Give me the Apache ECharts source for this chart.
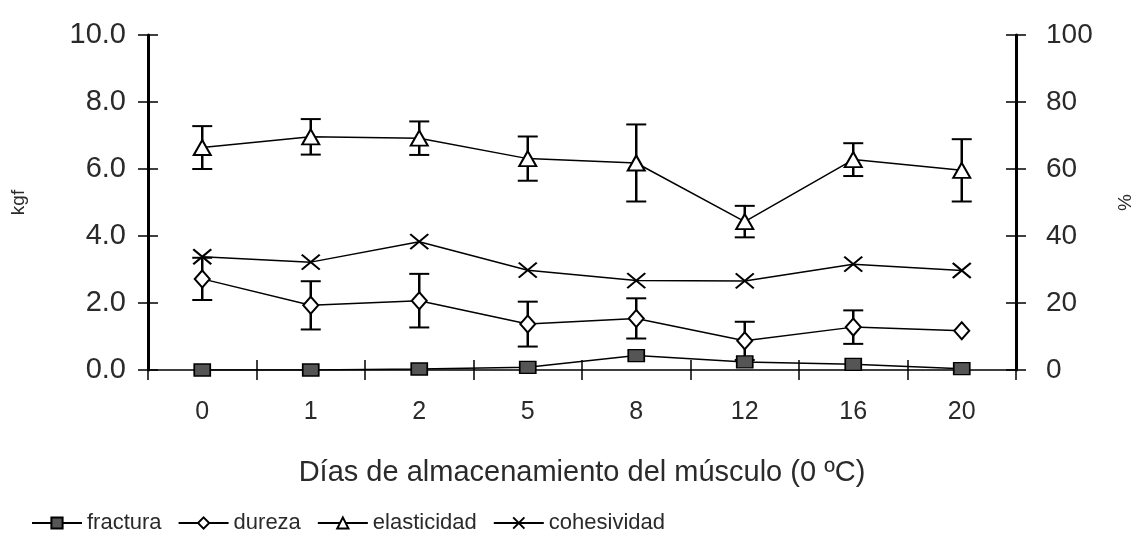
<!DOCTYPE html>
<html>
<head>
<meta charset="utf-8">
<script src="https://cdn.jsdelivr.net/npm/echarts@6/dist/echarts.min.js"></script>
<style>html,body{margin:0;padding:0;background:#fff}#c{width:1143px;height:539px}</style>
</head>
<body>
<div id="c"></div>
<script>
var categories = ['0', '1', '2', '5', '8', '12', '16', '20'];
var fractura = [0.0, 0.0, 0.03, 0.08, 0.43, 0.24, 0.17, 0.04];
var dureza = [2.72, 1.93, 2.07, 1.37, 1.54, 0.87, 1.28, 1.17];
var durezaSD = [0.63, 0.72, 0.8, 0.67, 0.6, 0.57, 0.5, null];
var elasticidad = [66.4, 69.6, 69.2, 63.1, 61.8, 44.3, 62.8, 59.6];
var elasticidadSD = [6.4, 5.3, 5.0, 6.6, 11.5, 4.7, 4.9, 9.3];
var cohesividad = [33.8, 32.2, 38.3, 29.8, 26.7, 26.6, 31.6, 29.7];
var leftTicks = [0, 2, 4, 6, 8, 10];
var rightTicks = [0, 20, 40, 60, 80, 100];
var seriesNames = ['fractura', 'dureza', 'elasticidad', 'cohesividad'];

function errData(mean, sd) {
  var out = [];
  for (var i = 0; i < mean.length; i++) {
    if (sd[i] != null) out.push([i, mean[i] - sd[i], mean[i] + sd[i]]);
  }
  return out;
}
function errRender(params, api) {
  var lo = api.coord([api.value(0), api.value(1)]);
  var hi = api.coord([api.value(0), api.value(2)]);
  var w = 10;
  var st = { stroke: '#000', lineWidth: 2.5 };
  var st2 = { stroke: '#000', lineWidth: 2 };
  return {
    type: 'group',
    children: [
      { type: 'line', shape: { x1: lo[0], y1: lo[1], x2: hi[0], y2: hi[1] }, style: st },
      { type: 'line', shape: { x1: lo[0] - w, y1: lo[1], x2: lo[0] + w, y2: lo[1] }, style: st2 },
      { type: 'line', shape: { x1: hi[0] - w, y1: hi[1], x2: hi[0] + w, y2: hi[1] }, style: st2 }
    ]
  };
}

var font = 'Liberation Sans, Arial, sans-serif';
var txt = '#2a2a2a';
var chart = echarts.init(document.getElementById('c'), null, { renderer: 'canvas' });
var baseY = {
  type: 'value', min: 0, splitLine: { show: false },
  axisLine: { show: true, lineStyle: { color: '#000', width: 3 } },
  axisTick: { show: true, length: 10, lineStyle: { color: '#000', width: 1.5 } }
};
chart.setOption({
  animation: false,
  backgroundColor: '#fff',
  grid: { left: 148, right: 121, top: 35, bottom: 169, containLabel: false },
  legend: {
    data: seriesNames,
    left: 26, top: 507,
    itemWidth: 50, itemHeight: 14, itemGap: 16,
    textStyle: { fontFamily: font, fontSize: 22, color: txt }
  },
  xAxis: [{
    type: 'category', data: categories, boundaryGap: true,
    name: 'Días de almacenamiento del músculo (0 ºC)',
    nameLocation: 'middle', nameGap: 88,
    nameTextStyle: { fontFamily: font, fontSize: 29, color: txt },
    axisLine: { lineStyle: { color: '#000', width: 1.5 } },
    axisTick: { show: true, length: 10, interval: 0, lineStyle: { color: '#000', width: 1.5 } },
    axisLabel: { fontFamily: font, fontSize: 25, color: txt, margin: 30, interval: 0 }
  }, {
    type: 'category', data: categories, boundaryGap: true, position: 'bottom',
    axisLine: { show: false },
    axisTick: { show: true, inside: true, length: 10, interval: 0, lineStyle: { color: '#000', width: 1.5 } },
    axisLabel: { show: false }
  }],
  yAxis: [
    Object.assign({}, baseY, {
      max: 10, interval: 2, position: 'left',
      name: 'kgf', nameLocation: 'middle', nameGap: 120,
      nameTextStyle: { fontFamily: font, fontSize: 19, color: txt },
      axisLabel: { fontFamily: font, fontSize: 29, color: txt, margin: 22,
        formatter: function (v) { return leftTicks.indexOf(v) >= 0 ? v.toFixed(1) : ''; } }
    }),
    Object.assign({}, baseY, {
      max: 100, interval: 20, position: 'right',
      name: '%', nameLocation: 'middle', nameGap: 100,
      nameTextStyle: { fontFamily: font, fontSize: 19, color: txt },
      axisLabel: { fontFamily: font, fontSize: 28, color: txt, margin: 30,
        formatter: function (v) { return rightTicks.indexOf(v) >= 0 ? String(v) : ''; } }
    }),
    Object.assign({}, baseY, {
      max: 10, interval: 2, position: 'left',
      axisLine: { show: false }, axisLabel: { show: false },
      axisTick: { show: true, inside: true, length: 10, lineStyle: { color: '#000', width: 1.5 } }
    }),
    Object.assign({}, baseY, {
      max: 100, interval: 20, position: 'right',
      axisLine: { show: false }, axisLabel: { show: false },
      axisTick: { show: true, inside: true, length: 10, lineStyle: { color: '#000', width: 1.5 } }
    })
  ],
  series: [
    {
      name: 'durezaErr', type: 'custom', yAxisIndex: 0, z: 1,
      renderItem: errRender, data: errData(dureza, durezaSD), silent: true
    },
    {
      name: 'elasticidadErr', type: 'custom', yAxisIndex: 1, z: 1,
      renderItem: errRender, data: errData(elasticidad, elasticidadSD), silent: true
    },
    {
      name: 'fractura', type: 'line', yAxisIndex: 0, data: fractura, z: 3,
      symbol: 'rect', symbolSize: [16, 12],
      lineStyle: { color: '#000', width: 1.5 },
      itemStyle: { color: '#555', borderColor: '#000', borderWidth: 1.5 }
    },
    {
      name: 'dureza', type: 'line', yAxisIndex: 0, data: dureza, z: 3,
      symbol: 'diamond', symbolSize: [15, 17],
      lineStyle: { color: '#000', width: 1.5 },
      itemStyle: { color: '#fff', borderColor: '#000', borderWidth: 2 }
    },
    {
      name: 'elasticidad', type: 'line', yAxisIndex: 1, data: elasticidad, z: 3,
      symbol: 'triangle', symbolSize: [17, 15],
      lineStyle: { color: '#000', width: 1.5 },
      itemStyle: { color: '#fff', borderColor: '#000', borderWidth: 2 }
    },
    {
      name: 'cohesividad', type: 'line', yAxisIndex: 1, data: cohesividad, z: 3,
      symbol: 'path://M0,0L10,8M10,0L0,8', symbolSize: [18, 15], symbolKeepAspect: false,
      lineStyle: { color: '#000', width: 1.5 },
      itemStyle: { color: 'rgba(0,0,0,0)', borderColor: '#000', borderWidth: 2 }
    }
  ]
});
</script>
</body>
</html>
